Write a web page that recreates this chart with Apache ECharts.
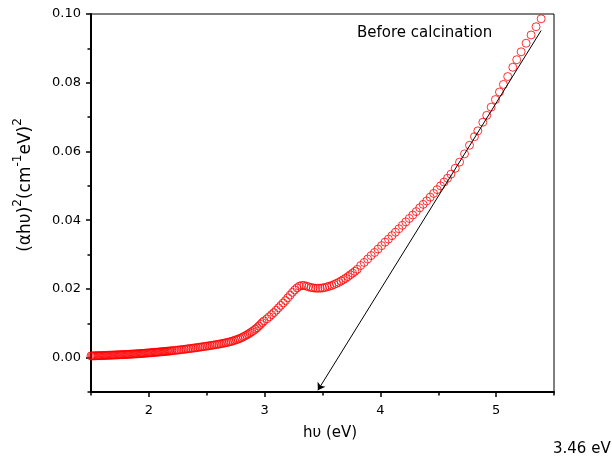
<!DOCTYPE html>
<html>
<head>
<meta charset="utf-8">
<script src="https://cdn.jsdelivr.net/npm/echarts@6/dist/echarts.min.js"></script>
<style>
html,body{margin:0;padding:0;background:#fff;}
#chart{width:612px;height:457px;}
</style>
</head>
<body>
<div id="chart"></div>
<script>
// photon energy hν (eV)
var energy = [
1.50,1.51,1.52,1.53,1.54,1.55,1.56,1.57,1.58,1.59,
1.60,1.61,1.62,1.63,1.64,1.65,1.66,1.67,1.68,1.69,
1.70,1.71,1.72,1.73,1.74,1.75,1.76,1.77,1.78,1.79,
1.80,1.81,1.82,1.83,1.84,1.85,1.86,1.87,1.88,1.89,
1.90,1.91,1.92,1.93,1.94,1.95,1.96,1.97,1.98,1.99,
2.00,2.01,2.02,2.03,2.04,2.05,2.06,2.07,2.08,2.09,
2.10,2.11,2.12,2.13,2.14,2.15,2.16,2.17,2.18,2.19,2.20,
2.215,2.23,2.245,2.26,2.275,2.29,2.305,2.32,2.335,2.35,
2.365,2.38,2.395,2.41,2.425,2.44,2.455,2.47,2.485,2.50,
2.515,2.53,2.545,2.56,2.575,2.59,2.605,2.62,2.635,2.65,
2.665,2.68,2.695,2.71,2.725,2.74,2.755,2.77,2.785,2.80,
2.815,2.83,2.845,2.86,2.875,2.89,2.905,2.92,2.935,2.95,
2.965,2.98,2.995,
3.02,3.04,3.06,3.08,3.10,3.12,3.14,3.16,3.18,3.20,
3.22,3.24,3.26,3.28,3.30,3.32,3.34,3.36,3.38,3.40,
3.42,3.44,3.46,3.48,3.50,3.52,3.54,3.56,3.58,3.60,
3.62,3.64,3.66,3.68,3.70,3.72,3.74,3.76,3.78,3.80,
3.83,3.86,3.89,3.92,3.95,3.98,4.01,4.04,4.07,4.10,
4.13,4.16,4.19,4.22,4.25,4.28,4.31,4.34,4.37,4.40,
4.43,4.46,4.49,4.52,4.55,4.58,4.61,
4.647,4.684,4.727,4.77,4.813,4.842,4.885,4.919,4.957,4.994,
5.029,5.063,5.10,5.144,5.178,5.216,5.259,5.302,5.345,5.389
];
// (αhν)^2 (cm^-1 eV)^2
var alphaHvSq = [
0.00050,0.00051,0.00052,0.00053,0.00054,0.00056,0.00057,0.00058,0.00059,0.00061,
0.00062,0.00063,0.00065,0.00066,0.00068,0.00069,0.00070,0.00072,0.00073,0.00075,
0.00076,0.00078,0.00079,0.00081,0.00082,0.00084,0.00086,0.00087,0.00089,0.00090,
0.00092,0.00094,0.00096,0.00098,0.00100,0.00102,0.00104,0.00106,0.00108,0.00110,
0.00112,0.00115,0.00117,0.00120,0.00122,0.00125,0.00127,0.00130,0.00133,0.00135,
0.00138,0.00141,0.00144,0.00147,0.00150,0.00153,0.00156,0.00159,0.00162,0.00165,
0.00168,0.00171,0.00174,0.00177,0.00180,0.00184,0.00187,0.00190,0.00193,0.00197,0.00200,
0.00206,0.00212,0.00218,0.00224,0.00230,0.00236,0.00242,0.00249,0.00256,0.00263,
0.00269,0.00276,0.00283,0.00290,0.00297,0.00305,0.00312,0.00320,0.00327,0.00335,
0.00343,0.00351,0.00359,0.00367,0.00376,0.00384,0.00393,0.00403,0.00413,0.00423,
0.00434,0.00445,0.00456,0.00470,0.00486,0.00503,0.00520,0.00538,0.00557,0.00580,
0.00605,0.00632,0.00660,0.00690,0.00722,0.00755,0.00790,0.00830,0.00870,0.00920,
0.00970,0.01020,0.01070,
0.0113,0.0119,0.0125,0.0131,0.0138,0.0145,0.0152,0.0159,0.0166,0.0174,
0.0182,0.0190,0.0197,0.0203,0.0208,0.0210,0.0210,0.0208,0.0206,0.0204,
0.0203,0.0202,0.0202,0.0202,0.0203,0.0204,0.0206,0.0208,0.0210,0.0213,
0.0216,0.0219,0.0223,0.0227,0.0231,0.0236,0.0241,0.0246,0.0251,0.0257,
0.0268,0.0277,0.0287,0.0297,0.0306,0.0316,0.0326,0.0336,0.0345,0.0355,
0.0365,0.0375,0.0385,0.0395,0.0405,0.0415,0.0425,0.0436,0.0446,0.0456,
0.0467,0.0478,0.0489,0.0500,0.0511,0.0522,0.0534,
0.0551,0.0569,0.0593,0.0618,0.0643,0.0660,0.0685,0.0705,0.0729,0.0751,
0.0773,0.0795,0.0818,0.0845,0.0867,0.0890,0.0915,0.0939,0.0963,0.0986
];
// linear extrapolation drawn with an arrow (start -> arrow tip)
var fitLineE = [5.389, 3.46];
var fitLineV = [0.0952, -0.0095];

var xMajorTicks = [2, 3, 4, 5];
var xMinorTicks = [1.5, 2.5, 3.5, 4.5, 5.5];
var yMajorTicks = [0.00, 0.02, 0.04, 0.06, 0.08, 0.10];
var yMinorTicks = [-0.01, 0.01, 0.03, 0.05, 0.07, 0.09];

var FONT = '"DejaVu Sans", "Liberation Sans", Arial, sans-serif';
var chart = echarts.init(document.getElementById('chart'), null, {renderer: 'canvas'});

var scatterData = energy.map(function (e, i) { return [e, alphaHvSq[i]]; });

function xAxisDef(ticks, len, showLabel, showLine) {
  return {
    type: 'value', min: 1.5, max: 5.5, position: 'bottom', offset: 0,
    axisLine: {show: showLine, onZero: false, lineStyle: {color: '#000', width: 2}},
    axisTick: {show: true, inside: false, length: len, customValues: ticks, lineStyle: {color: '#000', width: 1.5}},
    axisLabel: {show: showLabel, customValues: ticks, margin: 12, color: '#000', fontFamily: FONT, fontSize: 13,
      formatter: function (v) { return String(Math.round(v)); }},
    splitLine: {show: false}
  };
}
function yAxisDef(ticks, len, showLabel, showLine) {
  return {
    type: 'value', min: -0.01, max: 0.10, position: 'left', offset: 0,
    axisLine: {show: showLine, onZero: false, lineStyle: {color: '#000', width: 2}},
    axisTick: {show: true, inside: false, length: len, customValues: ticks, lineStyle: {color: '#000', width: 1.5}},
    axisLabel: {show: showLabel, customValues: ticks, margin: 10, color: '#000', fontFamily: FONT, fontSize: 13,
      formatter: function (v) { return v.toFixed(2); }},
    splitLine: {show: false}
  };
}

var option = {
  animation: false,
  backgroundColor: '#fff',
  grid: {left: 91, right: 58, top: 14, bottom: 65, show: true, borderColor: '#000', borderWidth: 1, backgroundColor: 'transparent'},
  xAxis: [xAxisDef(xMajorTicks, 5, true, true), xAxisDef(xMinorTicks, 3.5, false, false)],
  yAxis: [yAxisDef(yMajorTicks, 5, true, true), yAxisDef(yMinorTicks, 3.5, false, false)],
  series: [
    {
      type: 'scatter', xAxisIndex: 0, yAxisIndex: 0,
      data: scatterData,
      symbol: 'circle', symbolSize: 8,
      itemStyle: {color: 'rgba(0,0,0,0)', borderColor: '#ff0000', borderWidth: 1},
      emphasis: {disabled: true}, silent: true
    },
    {
      type: 'line', xAxisIndex: 0, yAxisIndex: 0,
      data: [], silent: true,
      markLine: {
        silent: true, animation: false,
        symbol: ['none', 'arrow'], symbolSize: 7,
        label: {show: false},
        lineStyle: {color: '#000', width: 1, type: 'solid'},
        data: [[{coord: [fitLineE[0], fitLineV[0]]}, {coord: [fitLineE[1], fitLineV[1]]}]]
      }
    }
  ],
  graphic: [
    {type: 'text', x: 357, y: 33, silent: true,
      style: {text: 'Before calcination', fontFamily: FONT, fontSize: 15, fill: '#000', textVerticalAlign: 'middle', verticalAlign: 'middle'}},
    {type: 'text', x: 330, y: 433, silent: true,
      style: {text: 'h\u03c5 (eV)', fontFamily: FONT, fontSize: 15, fill: '#000', textAlign: 'center', align: 'center', textVerticalAlign: 'middle', verticalAlign: 'middle'}},
    {type: 'text', x: 553, y: 449, silent: true,
      style: {text: '3.46 eV', fontFamily: FONT, fontSize: 15, fill: '#000', textVerticalAlign: 'middle', verticalAlign: 'middle'}},
    {type: 'text', x: 23, y: 185, rotation: Math.PI / 2, silent: true,
      style: {
        text: '{a|(\u03b1h\u03c5)}{s|2}{a|(cm}{s|-1}{a|eV)}{s|2}',
        fill: '#000', textAlign: 'center', align: 'center', textVerticalAlign: 'middle', verticalAlign: 'middle',
        rich: {
          a: {fontFamily: FONT, fontSize: 17, lineHeight: 22, verticalAlign: 'bottom', fill: '#000', color: '#000'},
          s: {fontFamily: FONT, fontSize: 12, lineHeight: 22, verticalAlign: 'top', fill: '#000', color: '#000'}
        }
      }}
  ]
};
chart.setOption(option);
</script>
</body>
</html>
